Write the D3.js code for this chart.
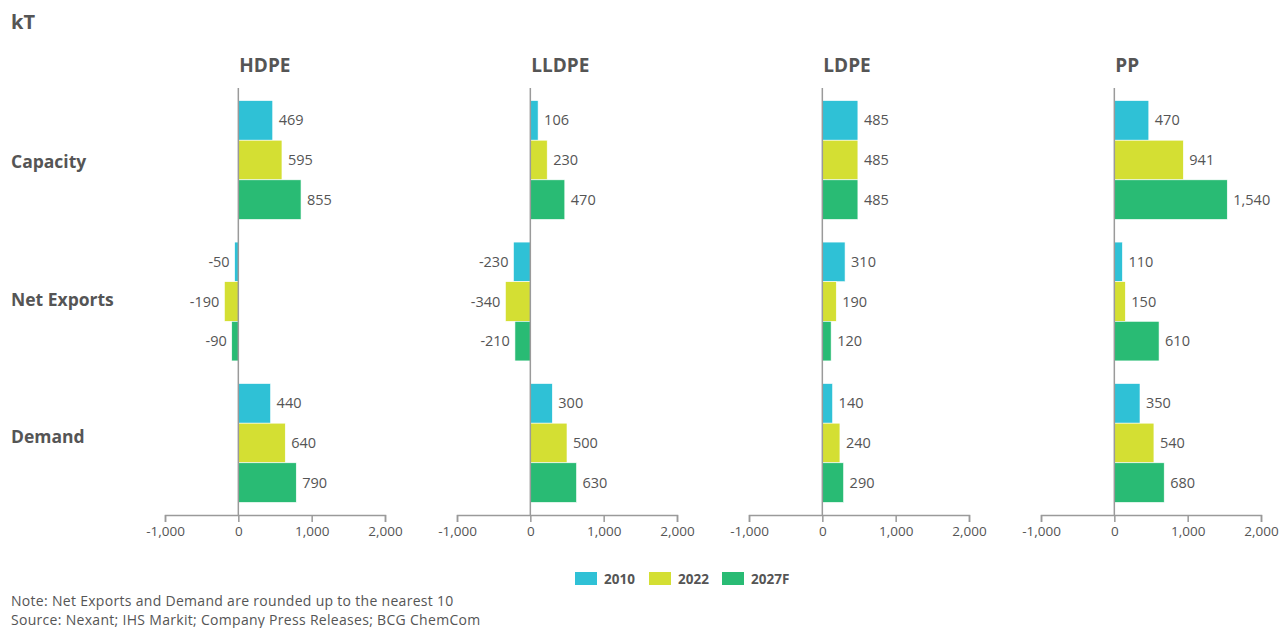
<!DOCTYPE html>
<html>
<head>
<meta charset="utf-8">
<script src="https://cdn.jsdelivr.net/npm/d3@7"></script>
<style>
  body { margin: 0; background: #fff; }
  text { font-family: "Open Sans", sans-serif; }
</style>
</head>
<body>
<svg id="chart" width="1279" height="628"></svg>
<script>
// Polymers and measures shown in the small multiples
const materials = ["HDPE", "LLDPE", "LDPE", "PP"];
const measures = ["Capacity", "Net Exports", "Demand"];
const years = ["2010", "2022", "2027F"];
const colors = ["#2fc1d6", "#d4df33", "#29bb74"];

// Values in kT, ordered measure by measure, each with [2010, 2022, 2027F]
const hdpe  = [[469, 595, 855],  [-50, -190, -90],  [440, 640, 790]];
const lldpe = [[106, 230, 470],  [-230, -340, -210], [300, 500, 630]];
const ldpe  = [[485, 485, 485],  [310, 190, 120],   [140, 240, 290]];
const pp    = [[470, 941, 1540], [110, 150, 610],   [350, 540, 680]];
const panelValues = [hdpe, lldpe, ldpe, pp];

const xTicks = [-1000, 0, 1000, 2000];

const fmt = d3.formatLocale({decimal: ".", thousands: ",", grouping: [3], currency: ["", ""], minus: "-"}).format(",");

const svg = d3.select("#chart");
const textColor = "#555";
const axisColor = "#9a9a9a";

// Unit label
svg.append("text").attr("x", 11).attr("y", 29)
  .attr("font-size", 20).attr("font-weight", 700).attr("fill", textColor).text("kT");

const yTop = 88, yAxis = 515;
const y = d3.scaleBand().domain(measures).range([yTop, yAxis]).paddingInner(0.16).paddingOuter(0.089);
const ySub = d3.scaleBand().domain(years).range([0, y.bandwidth()]);

// Row labels sit slightly inward from the band centres
const yLabel = d3.scalePoint().domain(measures).range([168, 443]);
measures.forEach(m => {
  svg.append("text").attr("x", 11).attr("y", yLabel(m))
    .attr("font-size", 17.5).attr("font-weight", 700).attr("fill", textColor).text(m);
});

const panelLeft = [165, 457, 749, 1041];
const panelWidth = 220;

materials.forEach((mat, i) => {
  const x = d3.scaleLinear().domain([-1000, 2000]).range([panelLeft[i], panelLeft[i] + panelWidth]);
  const g = svg.append("g");

  // Panel title, aligned to the zero line
  g.append("text").attr("x", x(0) + 1).attr("y", 72)
    .attr("font-size", 19).attr("font-weight", 700).attr("fill", textColor).text(mat);

  // Bars
  measures.forEach((m, mi) => {
    const vals = panelValues[i][mi];
    vals.forEach((v, yi) => {
      const yr = years[yi];
      const y0 = y(m) + ySub(yr);
      g.append("rect")
        .attr("x", Math.min(x(0), x(v)))
        .attr("y", y0)
        .attr("width", Math.abs(x(v) - x(0)))
        .attr("height", ySub.bandwidth())
        .attr("fill", colors[yi])
        .attr("stroke", "#fff").attr("stroke-width", 0.6);
      g.append("text")
        .attr("x", v >= 0 ? x(v) + 6 : x(v) - 5)
        .attr("y", y0 + ySub.bandwidth() / 2 + 5)
        .attr("text-anchor", v >= 0 ? "start" : "end")
        .attr("font-size", 14.5).attr("fill", textColor)
        .text(fmt(v));
    });
  });

  // Zero line
  g.append("line").attr("x1", x(0)).attr("x2", x(0)).attr("y1", yTop).attr("y2", yAxis)
    .attr("stroke", axisColor).attr("stroke-width", 1.5);

  // Bottom axis
  const axis = g.append("g").attr("transform", `translate(0,${yAxis})`)
    .call(d3.axisBottom(x).tickValues(xTicks).tickFormat(fmt).tickSizeOuter(0).tickSize(7).tickPadding(4));
  axis.select(".domain").attr("stroke", axisColor).attr("stroke-width", 1.5);
  axis.selectAll(".tick line").attr("stroke", axisColor).attr("stroke-width", 1.5);
  axis.selectAll(".tick text").attr("fill", textColor).attr("font-size", 13.5)
    .attr("font-family", "Open Sans, sans-serif");
});

// Legend
const legendX = [575, 649, 722];
years.forEach((yr, i) => {
  svg.append("rect").attr("x", legendX[i]).attr("y", 572).attr("width", 22).attr("height", 13).attr("fill", colors[i]);
  svg.append("text").attr("x", legendX[i] + 29).attr("y", 584)
    .attr("font-size", 13.5).attr("font-weight", 700).attr("fill", textColor).text(yr);
});

// Footnotes
svg.append("text").attr("x", 11).attr("y", 606).attr("font-size", 14).attr("letter-spacing", 0.3).attr("fill", textColor)
  .text("Note: Net Exports and Demand are rounded up to the nearest 10");
svg.append("text").attr("x", 11).attr("y", 625).attr("font-size", 14).attr("letter-spacing", 0.3).attr("fill", textColor)
  .text("Source: Nexant; IHS Markit; Company Press Releases; BCG ChemCom");
</script>
</body>
</html>
